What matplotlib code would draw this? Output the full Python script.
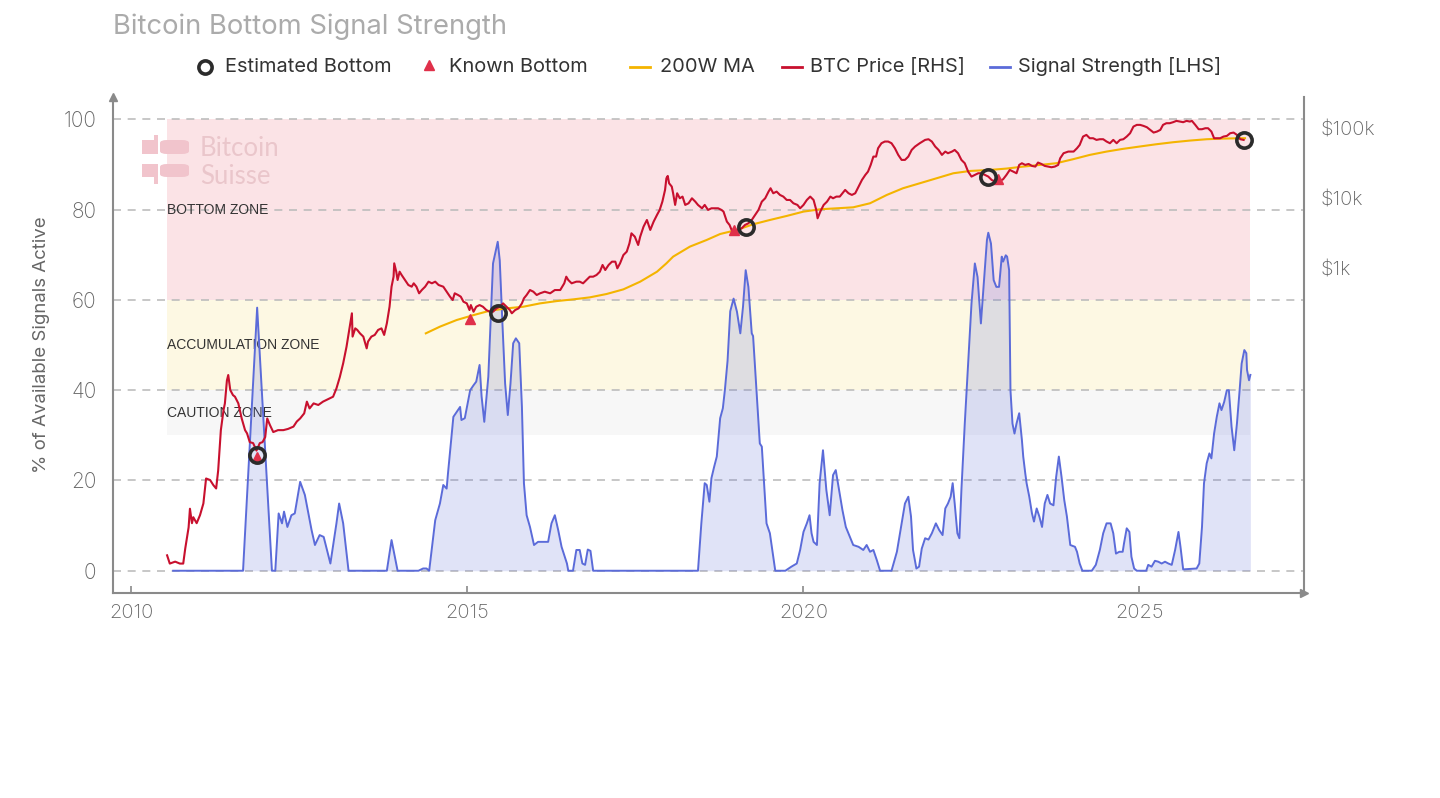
import matplotlib
matplotlib.use("Agg")
import matplotlib.pyplot as plt
from matplotlib.lines import Line2D
from matplotlib.patches import Rectangle, FancyBboxPatch
from matplotlib.ticker import NullLocator

plt.rcParams['font.family'] = ['Inter', 'DejaVu Sans']
plt.rcParams['font.weight'] = 'light'

# Signal strength [% of available signals active]
sig_years = [
    2010.62, 2011.66, 2011.87, 2012.09, 2012.14, 2012.19, 2012.24, 2012.27, 2012.32, 2012.38,
    2012.43, 2012.51, 2012.58, 2012.68, 2012.73, 2012.80, 2012.86, 2012.96, 2013.05, 2013.09,
    2013.15, 2013.23, 2013.80, 2013.87, 2013.96, 2014.27, 2014.34, 2014.39, 2014.43, 2014.52,
    2014.59, 2014.64, 2014.69, 2014.71, 2014.79, 2014.84, 2014.89, 2014.91, 2014.96, 2015.04,
    2015.09, 2015.13, 2015.18, 2015.21, 2015.25, 2015.31, 2015.38, 2015.45, 2015.48, 2015.52,
    2015.56, 2015.60, 2015.64, 2015.68, 2015.72, 2015.77, 2015.81, 2015.84, 2015.88, 2015.93,
    2015.99, 2016.05, 2016.20, 2016.25, 2016.30, 2016.35, 2016.40, 2016.48, 2016.50, 2016.57,
    2016.62, 2016.67, 2016.71, 2016.75, 2016.79, 2016.83, 2016.87, 2018.43, 2018.48, 2018.53,
    2018.56, 2018.60, 2018.63, 2018.67, 2018.71, 2018.76, 2018.80, 2018.83, 2018.87, 2018.91,
    2018.96, 2019.01, 2019.06, 2019.10, 2019.14, 2019.18, 2019.23, 2019.25, 2019.30, 2019.35,
    2019.38, 2019.45, 2019.50, 2019.58, 2019.73, 2019.82, 2019.90, 2019.95, 2020.00, 2020.05,
    2020.09, 2020.12, 2020.15, 2020.20, 2020.24, 2020.29, 2020.34, 2020.39, 2020.44, 2020.48,
    2020.53, 2020.58, 2020.63, 2020.68, 2020.74, 2020.82, 2020.89, 2020.94, 2020.99, 2021.04,
    2021.09, 2021.14, 2021.31, 2021.39, 2021.46, 2021.51, 2021.56, 2021.60, 2021.63, 2021.68,
    2021.72, 2021.76, 2021.81, 2021.86, 2021.91, 2021.97, 2022.02, 2022.07, 2022.11, 2022.15,
    2022.19, 2022.22, 2022.25, 2022.29, 2022.32, 2022.35, 2022.40, 2022.45, 2022.50, 2022.55,
    2022.59, 2022.64, 2022.69, 2022.73, 2022.75, 2022.79, 2022.83, 2022.87, 2022.91, 2022.95,
    2022.97, 2023.01, 2023.03, 2023.06, 2023.08, 2023.11, 2023.14, 2023.17, 2023.21, 2023.25,
    2023.27, 2023.30, 2023.32, 2023.36, 2023.40, 2023.43, 2023.47, 2023.51, 2023.55, 2023.59,
    2023.63, 2023.67, 2023.72, 2023.76, 2023.80, 2023.84, 2023.88, 2023.92, 2023.97, 2024.04,
    2024.07, 2024.11, 2024.15, 2024.29, 2024.35, 2024.41, 2024.46, 2024.51, 2024.57, 2024.61,
    2024.65, 2024.70, 2024.75, 2024.77, 2024.81, 2024.85, 2024.88, 2024.92, 2024.96, 2025.10,
    2025.13, 2025.18, 2025.23, 2025.28, 2025.33, 2025.38, 2025.43, 2025.48, 2025.53, 2025.58,
    2025.61, 2025.65, 2025.85, 2025.89, 2025.93, 2025.96, 2026.00, 2026.04, 2026.07, 2026.11,
    2026.15, 2026.19, 2026.22, 2026.26, 2026.30, 2026.33, 2026.37, 2026.41, 2026.45, 2026.49,
    2026.52, 2026.56, 2026.59, 2026.60, 2026.63, 2026.65,
]
sig_values = [
    0, 0, 58.3, 0, 0, 12.7, 10.5, 13.1, 9.7, 12.3,
    12.7, 19.7, 16.8, 9.0, 5.7, 7.9, 7.5, 1.6, 10.5, 14.9,
    10.5, 0, 0, 6.8, 0, 0, 0.5, 0.5, 0, 11.2,
    14.9, 19.0, 18.2, 21.6, 34.1, 35.2, 36.3, 33.4, 33.8, 40.0,
    41.1, 41.9, 45.6, 38.6, 33.0, 43.0, 68.1, 72.9, 68.8, 54.8,
    41.5, 34.5, 41.5, 50.4, 51.5, 50.4, 36.3, 19.4, 12.3, 9.7,
    5.7, 6.4, 6.4, 10.5, 12.3, 9.0, 5.3, 1.6, 0, 0,
    4.6, 4.6, 1.6, 1.3, 4.7, 4.4, 0, 0, 10.5, 19.4,
    19.0, 15.3, 20.5, 23.0, 25.3, 33.8, 36.0, 40.0, 46.5, 57.5,
    60.3, 57.4, 52.6, 58.5, 66.6, 62.9, 52.6, 52.0, 40.0, 28.2,
    27.5, 10.5, 8.3, 0, 0, 0.9, 1.6, 4.6, 8.6, 10.5,
    12.3, 8.3, 6.4, 5.7, 19.4, 26.7, 17.9, 12.3, 21.2, 22.3,
    17.9, 13.4, 9.7, 7.9, 5.7, 5.3, 4.6, 5.7, 4.2, 4.6,
    2.4, 0, 0, 4.2, 10.5, 14.9, 16.4, 12.0, 4.6, 0.5,
    0.9, 4.9, 7.2, 6.9, 8.3, 10.5, 9.0, 7.9, 13.8, 14.9,
    16.4, 19.4, 14.9, 8.3, 7.2, 17.9, 32.6, 45.9, 59.2, 68.1,
    65.1, 54.8, 65.1, 73.3, 74.9, 72.5, 64.4, 62.9, 62.9, 69.6,
    68.5, 69.9, 69.6, 66.6, 40.0, 32.6, 30.4, 32.6, 34.9, 29.0,
    25.3, 21.6, 19.4, 16.4, 12.7, 10.9, 13.8, 12.0, 9.7, 14.9,
    16.8, 14.9, 14.5, 20.8, 25.3, 20.8, 15.7, 12.0, 5.7, 5.3,
    4.2, 1.6, 0, 0, 1.3, 4.6, 8.3, 10.5, 10.5, 8.3,
    3.8, 4.2, 4.2, 6.1, 9.4, 8.6, 3.1, 0.5, 0, 0,
    1.3, 0.9, 2.2, 2.0, 1.6, 2.0, 1.6, 1.3, 4.6, 8.6,
    5.3, 0.3, 0.5, 1.6, 9.7, 19.4, 23.8, 26.0, 24.9, 30.4,
    34.1, 37.1, 35.6, 37.4, 40.0, 40.0, 31.9, 26.7, 32.6, 40.0,
    45.9, 48.9, 48.2, 44.5, 42.2, 43.4,
]

# BTC price [USD]
price_years = [
    2010.53, 2010.57, 2010.65, 2010.72, 2010.77, 2010.80, 2010.85, 2010.87, 2010.90, 2010.92,
    2010.97, 2011.02, 2011.07, 2011.11, 2011.17, 2011.22, 2011.26, 2011.29, 2011.33, 2011.37,
    2011.39, 2011.42, 2011.44, 2011.47, 2011.51, 2011.54, 2011.59, 2011.64, 2011.69, 2011.72,
    2011.76, 2011.81, 2011.86, 2011.91, 2011.95, 2011.99, 2012.02, 2012.06, 2012.11, 2012.18,
    2012.26, 2012.33, 2012.41, 2012.46, 2012.51, 2012.57, 2012.61, 2012.65, 2012.71, 2012.78,
    2012.85, 2012.90, 2012.95, 2013.00, 2013.05, 2013.10, 2013.15, 2013.20, 2013.24, 2013.28,
    2013.29, 2013.33, 2013.36, 2013.40, 2013.45, 2013.50, 2013.52, 2013.57, 2013.62, 2013.67,
    2013.72, 2013.76, 2013.80, 2013.84, 2013.87, 2013.90, 2013.91, 2013.94, 2013.96, 2013.99,
    2014.02, 2014.07, 2014.12, 2014.17, 2014.20, 2014.24, 2014.28, 2014.32, 2014.37, 2014.42,
    2014.47, 2014.52, 2014.57, 2014.64, 2014.69, 2014.74, 2014.78, 2014.81, 2014.86, 2014.90,
    2014.94, 2014.99, 2015.03, 2015.05, 2015.09, 2015.13, 2015.18, 2015.23, 2015.28, 2015.33,
    2015.38, 2015.43, 2015.48, 2015.53, 2015.58, 2015.63, 2015.66, 2015.71, 2015.76, 2015.81,
    2015.84, 2015.88, 2015.93, 2015.98, 2016.03, 2016.08, 2016.15, 2016.23, 2016.30, 2016.38,
    2016.44, 2016.47, 2016.50, 2016.55, 2016.62, 2016.67, 2016.72, 2016.77, 2016.82, 2016.87,
    2016.92, 2016.97, 2017.01, 2017.05, 2017.10, 2017.15, 2017.20, 2017.23, 2017.27, 2017.32,
    2017.37, 2017.41, 2017.44, 2017.49, 2017.54, 2017.57, 2017.62, 2017.67, 2017.72, 2017.77,
    2017.82, 2017.86, 2017.90, 2017.94, 2017.96, 2017.98, 2018.00, 2018.04, 2018.06, 2018.09,
    2018.12, 2018.16, 2018.20, 2018.24, 2018.29, 2018.34, 2018.39, 2018.43, 2018.49, 2018.53,
    2018.58, 2018.63, 2018.68, 2018.73, 2018.78, 2018.81, 2018.86, 2018.90, 2018.93, 2018.98,
    2019.03, 2019.08, 2019.13, 2019.18, 2019.23, 2019.28, 2019.33, 2019.38, 2019.43, 2019.48,
    2019.51, 2019.55, 2019.60, 2019.65, 2019.70, 2019.75, 2019.80, 2019.85, 2019.91, 2019.95,
    2020.00, 2020.05, 2020.10, 2020.15, 2020.19, 2020.21, 2020.25, 2020.30, 2020.35, 2020.40,
    2020.44, 2020.49, 2020.54, 2020.58, 2020.62, 2020.67, 2020.72, 2020.77, 2020.82, 2020.87,
    2020.92, 2020.96, 2021.00, 2021.04, 2021.08, 2021.11, 2021.16, 2021.21, 2021.26, 2021.31,
    2021.36, 2021.41, 2021.46, 2021.51, 2021.56, 2021.61, 2021.66, 2021.73, 2021.81, 2021.86,
    2021.91, 2021.96, 2022.01, 2022.06, 2022.11, 2022.15, 2022.21, 2022.25, 2022.30, 2022.35,
    2022.40, 2022.45, 2022.50, 2022.55, 2022.60, 2022.65, 2022.70, 2022.75, 2022.80, 2022.85,
    2022.90, 2022.97, 2023.02, 2023.07, 2023.12, 2023.17, 2023.21, 2023.25, 2023.30, 2023.35,
    2023.40, 2023.45, 2023.49, 2023.54, 2023.59, 2023.64, 2023.69, 2023.74, 2023.79, 2023.82,
    2023.87, 2023.94, 2024.02, 2024.07, 2024.11, 2024.16, 2024.21, 2024.26, 2024.31, 2024.36,
    2024.41, 2024.46, 2024.51, 2024.56, 2024.61, 2024.66, 2024.71, 2024.76, 2024.81, 2024.86,
    2024.91, 2024.96, 2025.01, 2025.06, 2025.11, 2025.16, 2025.21, 2025.26, 2025.31, 2025.35,
    2025.40, 2025.45, 2025.50, 2025.55, 2025.60, 2025.65, 2025.70, 2025.75, 2025.78, 2025.83,
    2025.88, 2025.93, 2025.98, 2026.02, 2026.07, 2026.11, 2026.15, 2026.20, 2026.25, 2026.30,
    2026.35, 2026.40, 2026.45, 2026.50, 2026.55,
]
price_usd = [
    0.08, 0.061, 0.065, 0.061, 0.061, 0.10, 0.20, 0.37, 0.23, 0.28,
    0.23, 0.30, 0.44, 1.0, 0.95, 0.80, 0.72, 1.3, 4.9, 9.5,
    11.8, 25, 30, 18.3, 15.5, 14.7, 11.8, 7.2, 4.9, 4.4,
    3.3, 3.2, 2.5, 3.2, 3.3, 3.9, 7.2, 5.8, 4.6, 4.9,
    4.9, 5.1, 5.5, 6.5, 7.2, 8.5, 12.5, 10, 11.8, 11.2,
    12.5, 13.2, 13.9, 14.7, 19.3, 28, 44, 76, 132, 228,
    106, 139, 132, 118, 106, 72, 90, 106, 112, 132,
    139, 112, 164, 283, 547, 760, 1178, 895, 681, 895,
    803, 681, 578, 547, 611, 547, 440, 490, 547, 645,
    611, 645, 578, 547, 464, 394, 353, 440, 416, 394,
    334, 316, 254, 299, 240, 283, 299, 283, 254, 240,
    240, 268, 283, 316, 283, 254, 228, 254, 268, 316,
    373, 416, 490, 464, 416, 440, 464, 440, 490, 490,
    611, 760, 681, 611, 645, 645, 611, 681, 760, 760,
    803, 895, 1117, 946, 1117, 1245, 1245, 1000, 1178, 1549,
    1730, 2275, 3162, 2831, 2154, 2831, 3938, 4900, 3533, 4642,
    5780, 6813, 8952, 13160, 19300, 20840, 16370, 14680, 11790, 8035,
    11790, 10000, 10570, 8035, 8486, 10000, 8952, 8035, 7197, 8035,
    6813, 7197, 7197, 7197, 6813, 6452, 4642, 4160, 3533, 3343,
    3533, 3728, 4160, 4394, 4900, 5780, 6813, 8952, 10000, 12450,
    13900, 11790, 12450, 11160, 10570, 9465, 9465, 8486, 8035, 7197,
    8035, 9465, 10570, 9465, 6813, 5180, 6452, 8035, 8952, 10570,
    10000, 10570, 10570, 11790, 13160, 11790, 11160, 11790, 14680, 18270,
    21540, 24030, 29940, 39360, 39360, 51800, 61060, 64550, 64550, 61060,
    51800, 41600, 35300, 35300, 39360, 48990, 54730, 61060, 68130, 69660,
    64550, 54730, 48990, 41600, 46420, 43950, 46420, 48990, 43950, 35300,
    31620, 24030, 20400, 21540, 22760, 22760, 21540, 20400, 18270, 17300,
    17300, 18660, 21540, 25410, 24030, 22760, 29940, 31620, 29940, 30900,
    28970, 28330, 32360, 30900, 28970, 28330, 27730, 28330, 29940, 37270,
    43950, 46420, 46420, 51800, 57790, 76030, 80350, 71970, 71970, 68130,
    69660, 69660, 64550, 61060, 68130, 61060, 68130, 69660, 76030, 84850,
    105600, 111600, 111600, 107900, 103300, 94690, 86700, 89580, 94690, 111600,
    117900, 117900, 121900, 127300, 124500, 121900, 127300, 124500, 127300, 111600,
    96770, 96770, 100000, 100000, 89580, 71970, 71970, 71970, 76030, 77700,
    84850, 86700, 80350, 69660, 68130,
]

# 200-week moving average [USD]
ma_years = [
    2014.38, 2014.59, 2014.84, 2015.09, 2015.33, 2015.58, 2015.83, 2016.08, 2016.33, 2016.58,
    2016.82, 2017.07, 2017.32, 2017.57, 2017.82, 2017.96, 2018.06, 2018.31, 2018.56, 2018.76,
    2019.01, 2019.25, 2019.50, 2019.75, 2020.00, 2020.25, 2020.50, 2020.74, 2020.99, 2021.24,
    2021.48, 2021.73, 2021.98, 2022.23, 2022.48, 2022.78, 2023.02, 2023.27, 2023.52, 2023.76,
    2024.01, 2024.26, 2024.51, 2024.75, 2025.00, 2025.25, 2025.50, 2025.75, 2026.00, 2026.25,
    2026.50, 2026.57,
]
ma_usd = [
    118, 147, 183, 215, 248, 268, 283, 316, 341, 361,
    385, 430, 501, 645, 895, 1178, 1468, 2042, 2542, 3091,
    3533, 4253, 4900, 5595, 6452, 6966, 7197, 7430, 8486, 11160,
    13900, 16370, 19300, 22760, 24550, 25410, 26540, 28330, 29940, 31620,
    36070, 41600, 46420, 50670, 54730, 59050, 63100, 66640, 69660, 71130,
    71970, 71970,
]

# bottom markers
est_bottom_years = [2011.87, 2015.45, 2019.14, 2022.75, 2026.56]
est_bottom_usd = [2.15, 233, 3940, 19950, 68100]
known_bottom_years = [2011.87, 2015.04, 2018.96, 2022.90]
known_bottom_usd = [2.0, 187, 3530, 18700]

# zones on the left axis
zone_bounds = [(60, 100), (40, 60), (30, 40)]
zone_labels = ['BOTTOM ZONE', 'ACCUMULATION ZONE', 'CAUTION ZONE']
zone_colors = ['#fbe3e6', '#fdf8e3', '#f7f7f7']

x_ticks = [2010, 2015, 2020, 2025]
y_ticks = [0, 20, 40, 60, 80, 100]
rhs_ticks = [1e3, 1e4, 1e5]
rhs_labels = ['\\$1k', '\\$10k', '\\$100k']

C_PRICE = '#c8102e'
C_MA = '#f4b400'
C_SIG = '#5b6bd9'
C_KNOWN = '#e0304a'
C_RING = '#2b2b2b'
C_AXIS = '#8a8a8a'
C_TICK = '#666666'

# axes box in pixels (left, top, right, bottom) on a 1440x798 canvas
AX_L, AX_T, AX_R, AX_B = 113, 96.9, 1304, 593.3
W, H = 1440, 798


def px_to_axes(x, y):
    """Pixel position on the canvas -> axes fraction"""
    return (x - AX_L) / (AX_R - AX_L), (AX_B - y) / (AX_B - AX_T)


def draw_watermark(ax):
    """Faint Bitcoin Suisse logo in the top-left corner"""
    logo_c = '#f1c4cc'
    aw, ah = AX_R - AX_L, AX_B - AX_T
    blocks = [(142, 140, 13, 14), (154, 135, 4, 19), (142, 164, 13, 13), (154, 164, 4, 20)]
    for x, y, w, h in blocks:
        x0, y0 = px_to_axes(x, y + h)
        ax.add_patch(Rectangle((x0, y0), w / aw, h / ah, transform=ax.transAxes,
                               color=logo_c, lw=0, zorder=1))
    for x, y, w, h in [(160, 140, 29, 14), (160, 164, 29, 13)]:
        x0, y0 = px_to_axes(x, y + h)
        ax.add_patch(FancyBboxPatch((x0, y0), w / aw, h / ah,
                                    boxstyle='round,pad=0,rounding_size=0.006',
                                    transform=ax.transAxes, color=logo_c, lw=0, zorder=1))
    for word, y in [('Bitcoin', 149), ('Suisse', 176)]:
        tx, ty = px_to_axes(200, y)
        ax.text(tx, ty, word, transform=ax.transAxes, fontsize=18.5, fontweight='normal',
                family=['Lato', 'DejaVu Sans'], color='#eac6cb', ha='left', va='center', zorder=1)


def draw_legend(fig):
    """Legend row under the title, items placed as in the source"""
    y = 1 - 67 / H
    fig.add_artist(Line2D([205 / W], [y], transform=fig.transFigure, ls='none', marker='o',
                          ms=9.5, mfc='none', mec=C_RING, mew=2.6))
    fig.add_artist(Line2D([429 / W], [y + 2 / H], transform=fig.transFigure, ls='none',
                          marker='^', ms=7, color=C_KNOWN))
    for x0, c in [(630, C_MA), (782, C_PRICE), (990, C_SIG)]:
        fig.add_artist(Line2D([x0 / W, (x0 + 20) / W], [y, y], transform=fig.transFigure,
                              color=c, lw=2))
    labels = ['Estimated Bottom', 'Known Bottom', '200W MA', 'BTC Price [RHS]',
              'Signal Strength [LHS]']
    for x, lab in zip([225, 449, 660, 810, 1018], labels):
        fig.text(x / W, y, lab, fontsize=14.4, fontweight='normal', color='#333333',
                 ha='left', va='center')


def main():
    fig = plt.figure(figsize=(W / 100, H / 100), dpi=100)
    ax = fig.add_axes([AX_L / W, 1 - AX_B / H, (AX_R - AX_L) / W, (AX_B - AX_T) / H])
    ax.set_xlim(2009.725, 2027.448)
    ax.set_ylim(-5, 105)

    # zones span the data range
    x0, x1 = price_years[0], sig_years[-1]
    for (lo, hi), label, c in zip(zone_bounds, zone_labels, zone_colors):
        ax.fill_between([x0, x1], lo, hi, color=c, lw=0, zorder=0)
        ax.text(x0, (lo + hi) / 2, label, fontsize=10, fontweight='normal',
                family=['Liberation Sans', 'DejaVu Sans'],
                color='#333333', ha='left', va='center', zorder=1)

    draw_watermark(ax)

    ax.set_axisbelow(True)
    ax.set_yticks(y_ticks)
    ax.grid(axis='y', color='#bdbdbd', lw=1.2, ls=(0, (4.8, 4.0)))
    ax.set_xticks(x_ticks)

    # signal strength
    ax.fill_between(sig_years, 0, sig_values, color=C_SIG, alpha=0.19, lw=0, zorder=2)
    ax.plot(sig_years, sig_values, color=C_SIG, lw=1.4, zorder=3)

    for s in ['top', 'right']:
        ax.spines[s].set_visible(False)
    for s in ['left', 'bottom']:
        ax.spines[s].set_color(C_AXIS)
        ax.spines[s].set_linewidth(1.5)
    ax.plot([0], [1], marker='^', ms=6, color=C_AXIS, transform=ax.transAxes, clip_on=False)
    ax.plot([1], [0], marker='>', ms=6, color=C_AXIS, transform=ax.transAxes, clip_on=False)

    ax.tick_params(axis='y', length=0, pad=12, labelsize=15, labelcolor=C_TICK)
    ax.tick_params(axis='x', direction='in', length=5, width=1.2, color=C_AXIS,
                   pad=8, labelsize=14.5, labelcolor=C_TICK)
    ax.set_ylabel('% of Available Signals Active', fontsize=13.4, color=C_TICK, labelpad=10)

    # price on the right, log scale
    axr = ax.twinx()
    axr.set_yscale('log')
    axr.set_ylim(0.02296, 280000)
    axr.plot(ma_years, ma_usd, color=C_MA, lw=1.5, zorder=3)
    axr.plot(price_years, price_usd, color=C_PRICE, lw=1.5, zorder=4)
    axr.plot(known_bottom_years, known_bottom_usd, ls='none', marker='^', ms=7,
             color=C_KNOWN, zorder=5)
    axr.plot(est_bottom_years, est_bottom_usd, ls='none', marker='o', ms=11, mfc='none',
             mec=C_RING, mew=2.6, zorder=6)
    axr.set_yticks(rhs_ticks)
    axr.set_yticklabels(rhs_labels)
    axr.yaxis.set_minor_locator(NullLocator())
    axr.tick_params(axis='y', length=0, pad=12, labelsize=14.5, labelcolor=C_TICK)
    for s in ['top', 'left', 'bottom']:
        axr.spines[s].set_visible(False)
    axr.spines['right'].set_color(C_AXIS)
    axr.spines['right'].set_linewidth(1.5)

    fig.text(AX_L / W, 1 - 27 / H, 'Bitcoin Bottom Signal Strength', fontsize=19.7,
             fontweight='normal', color='#ababab', ha='left', va='center')
    draw_legend(fig)

    fig.savefig('out.png', dpi=100)
    plt.close(fig)


if __name__ == '__main__':
    main()
